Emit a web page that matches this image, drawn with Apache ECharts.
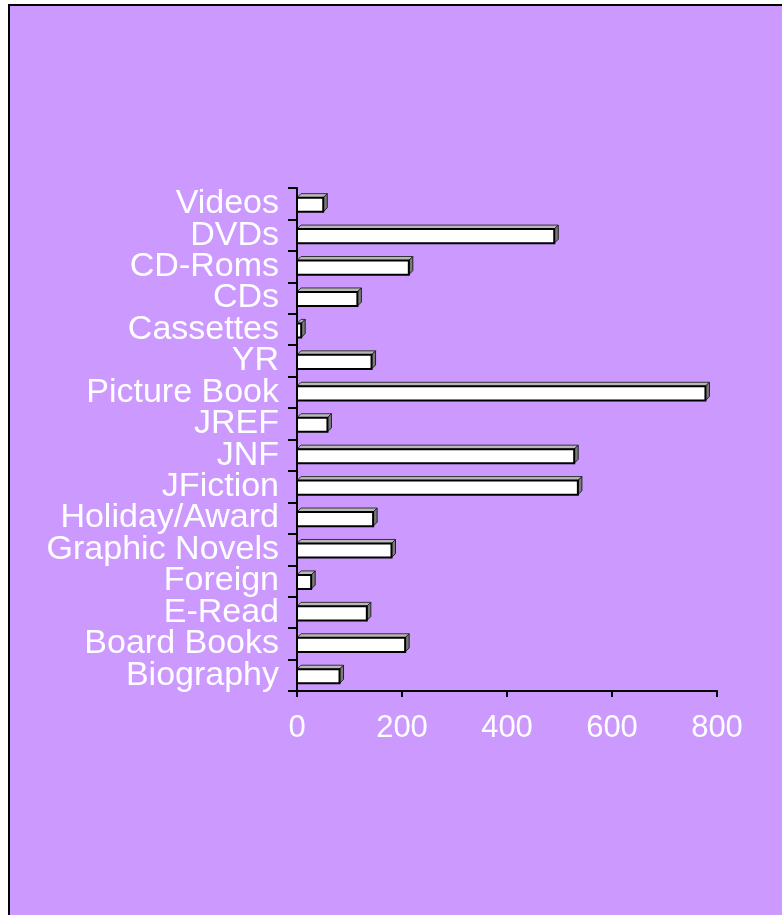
<!DOCTYPE html>
<html>
<head>
<meta charset="utf-8">
<script src="https://cdn.jsdelivr.net/npm/echarts@6/dist/echarts.min.js"></script>
<style>
html,body{margin:0;padding:0;background:#ffffff;width:782px;height:915px;overflow:hidden;}
#frame{position:absolute;left:8px;top:4px;width:780px;height:920px;background:#CC99FF;border-left:2px solid #000;border-top:2px solid #000;}
#chart{position:absolute;left:0;top:0;width:782px;height:915px;}
</style>
</head>
<body>
<div id="frame"></div>
<div id="chart"></div>
<script>
var categories = ["Videos","DVDs","CD-Roms","CDs","Cassettes","YR","Picture Book","JREF","JNF","JFiction","Holiday/Award","Graphic Novels","Foreign","E-Read","Board Books","Biography"];
var values = [50, 490, 213, 115, 8, 142, 778, 58, 528, 535, 145, 180, 27, 133, 206, 81];
var xTicks = [0, 200, 400, 600, 800];

var chart = echarts.init(document.getElementById('chart'), null, {renderer:'canvas'});
var depth = 4;
function renderBar(params, api){
  var idx = api.value(0);
  var val = api.value(1);
  var p0 = api.coord([0, idx]);
  var p1 = api.coord([val, idx]);
  var band = api.size([0, 1])[1];
  var h = band * 0.45;
  var x0 = p0[0], x1 = p1[0];
  var yT = p0[1] - h/2 + 1, yB = p0[1] + h/2 + 1;
  var d = depth;
  return {
    type:'group',
    children:[
      {type:'polygon', shape:{points:[[x0,yT],[x0+d,yT-d],[x1+d,yT-d],[x1,yT]]},
       style:{fill:'#b8b8b8', stroke:'#333', lineWidth:1}},
      {type:'polygon', shape:{points:[[x1,yT],[x1+d,yT-d],[x1+d,yB-d],[x1,yB]]},
       style:{fill:'#7a7a7a', stroke:'#222', lineWidth:1}},
      {type:'rect', shape:{x:x0, y:yT, width:Math.max(x1-x0,1), height:yB-yT},
       style:{fill:'#ffffff', stroke:'#000', lineWidth:2}}
    ]
  };
}

var option = {
  animation:false,
  backgroundColor:'transparent',
  grid:{left:297, top:188, width:420, height:503, containLabel:false},
  xAxis:{
    type:'value', min:xTicks[0], max:xTicks[xTicks.length-1], interval:200,
    axisLine:{show:true, lineStyle:{color:'#000', width:2}},
    axisTick:{show:true, length:6, lineStyle:{color:'#000', width:2}},
    splitLine:{show:false},
    axisLabel:{color:'#ffffff', fontSize:31, fontFamily:'Liberation Sans, Arial, sans-serif', margin:22,
      formatter:function(v){return xTicks.indexOf(v)>=0 ? String(v) : '';}}
  },
  yAxis:{
    type:'category', data:categories, inverse:true,
    axisLine:{show:true, lineStyle:{color:'#000', width:2}},
    axisTick:{show:true, length:9, inside:false, alignWithLabel:false, lineStyle:{color:'#000', width:2}},
    axisLabel:{color:'#ffffff', fontSize:34, fontFamily:'Liberation Sans, Arial, sans-serif', margin:18, interval:0,
      padding:[9,0,0,0]},
    splitLine:{show:false}
  },
  series:[{
    type:'custom',
    renderItem:renderBar,
    encode:{x:1, y:0},
    data:values.map(function(v,i){return [i, v];})
  }]
};
chart.setOption(option);
</script>
</body>
</html>
